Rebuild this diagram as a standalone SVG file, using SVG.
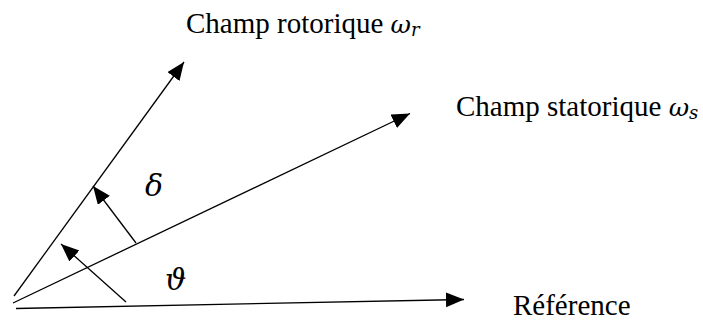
<svg xmlns="http://www.w3.org/2000/svg" width="703" height="320" viewBox="0 0 703 320">
<defs>
<marker id="ah" markerUnits="userSpaceOnUse" markerWidth="19" markerHeight="16" refX="18" refY="7.5" orient="auto">
<path d="M0,0 L18,7.5 L0,15 z" fill="#000"/>
</marker>
<style>
.ln{stroke:#000;stroke-width:1.3;fill:none}
.t{font-family:"Liberation Serif","Times New Roman",serif;font-size:29px;fill:#000}
.m{font-family:"DejaVu Serif","Liberation Serif",serif;font-style:italic;fill:#000}
</style>
</defs>
<rect width="703" height="320" fill="#fff"/>
<g id="connectors">
<line class="ln" x1="14" y1="296" x2="184" y2="62" marker-end="url(#ah)"/>
<line class="ln" x1="13" y1="303" x2="410" y2="113.5" marker-end="url(#ah)"/>
<line class="ln" x1="16" y1="308.5" x2="464" y2="299.5" marker-end="url(#ah)"/>
<line class="ln" x1="136" y1="243" x2="93" y2="186" marker-end="url(#ah)"/>
<line class="ln" x1="126" y1="302" x2="61" y2="244" marker-end="url(#ah)"/>
</g>
<g id="rotor-label">
<text class="t" x="186" y="33">Champ rotorique <tspan class="m" font-size="25">ω</tspan><tspan class="m" font-size="18" dy="3">r</tspan></text>
</g>
<g id="stator-label">
<text class="t" x="456" y="116">Champ statorique <tspan class="m" font-size="25">ω</tspan><tspan class="m" font-size="18" dy="3">s</tspan></text>
</g>
<g id="reference-label">
<text class="t" x="513" y="315">Référence</text>
</g>
<g id="delta-label">
<text class="m" x="145" y="196" font-size="30">δ</text>
</g>
<g id="theta-label">
<text class="m" x="165" y="290" font-size="30">ϑ</text>
</g>
</svg>
